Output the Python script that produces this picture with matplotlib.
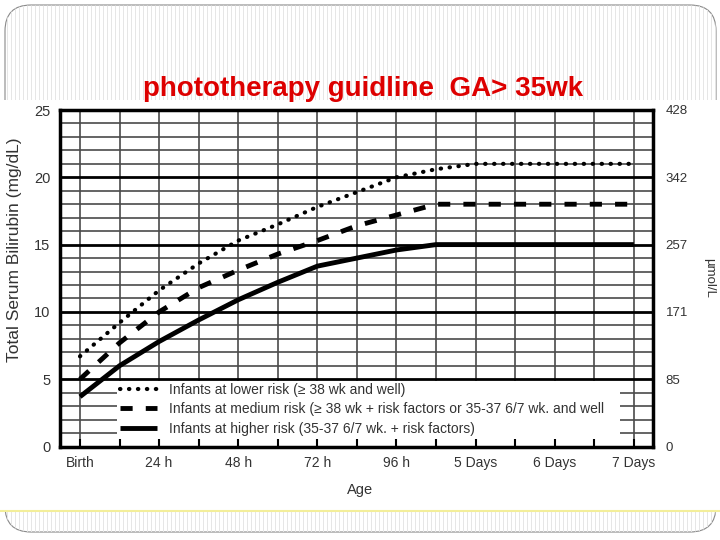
import numpy as np
import matplotlib
matplotlib.use("Agg")
import matplotlib.pyplot as plt
from matplotlib.patches import FancyBboxPatch, Rectangle

plt.rcParams['font.family'] = ['Liberation Sans', 'DejaVu Sans']

# ---------------- data ----------------
hours = [0, 12, 24, 36, 48, 60, 72, 84, 96, 108, 120, 132, 144, 156, 168]
lower_risk = [6.7, 9.2, 11.6, 13.6, 15.3, 16.5, 17.8, 18.9, 20.0, 20.6, 21.0, 21.0, 21.0, 21.0, 21.0]
medium_risk = [5.0, 7.7, 10.0, 11.8, 13.1, 14.3, 15.3, 16.4, 17.2, 18.0, 18.0, 18.0, 18.0, 18.0, 18.0]
higher_risk = [3.7, 6.0, 7.8, 9.4, 10.9, 12.2, 13.4, 14.0, 14.6, 15.0, 15.0, 15.0, 15.0, 15.0, 15.0]

labels = ["Infants at lower risk (\u2265 38 wk and well)",
          "Infants at medium risk (\u2265 38 wk + risk factors or 35-37 6/7 wk. and well",
          "Infants at higher risk (35-37 6/7 wk. + risk factors)"]

x_tick_pos = [0, 24, 48, 72, 96, 120, 144, 168]
x_tick_labels = ["Birth", "24 h", "48 h", "72 h", "96 h", "5 Days", "6 Days", "7 Days"]
y_ticks = [0, 5, 10, 15, 20, 25]
umol_labels = ["0", "85", "171", "257", "342", "428"]
minor_y = list(range(0, 26))
minor_x = list(range(0, 169, 12))

title = "phototherapy guidline  GA> 35wk"

# ---------------- figure / slide background ----------------
fig = plt.figure(figsize=(7.2, 5.4), dpi=100)
fig.patch.set_facecolor("white")

bg = fig.add_axes([0, 0, 1, 1], zorder=-5)
bg.set_xlim(0, 720)
bg.set_ylim(540, 0)
bg.axis("off")
slide = FancyBboxPatch((5, 5), 711, 527, boxstyle="round,pad=0,rounding_size=26",
                       fc="white", ec="#8a8a8a", lw=0.8, zorder=1)
bg.add_patch(slide)
stripes = bg.vlines(np.arange(7, 716, 4), 5, 532, color="#e6e6e6", lw=0.7, zorder=2)
stripes.set_clip_path(slide)
bg.add_patch(Rectangle((0, 100), 720, 410, fc="white", ec="none", zorder=3))
bg.hlines(510.5, 0, 720, color="#f3ee9a", lw=1.5, zorder=4)

# ---------------- chart ----------------
ax = fig.add_axes([60 / 720, 1 - 446.5 / 540, 593 / 720, 336.5 / 540])
ax.set_facecolor("white")
ax.set_xlim(-6.06, 173.8)
ax.set_ylim(0, 25)

# grid
ax.vlines(minor_x, 0, 25, color="#4a4a4a", lw=1.2, zorder=0.5)
ax.hlines([v for v in minor_y if v % 5], -6.06, 173.8, color="#4a4a4a", lw=1.2, zorder=0.5)
# white legend box region
ax.add_patch(Rectangle((11.2, 0), 152.5, 4.9, fc="white", ec="none", zorder=1))
ax.hlines([v for v in minor_y if v % 5 == 0], -6.06, 173.8, color="black", lw=2.0, zorder=1.5)

l1, = ax.plot(hours, lower_risk, color="black", lw=3.0, linestyle=(0, (0.1, 2.05)),
              dash_capstyle="round", zorder=3)
l2, = ax.plot(hours, medium_risk, color="black", lw=3.5, linestyle=(0, (2.5, 2.7)),
              dash_capstyle="butt", zorder=3)
l3, = ax.plot(hours, higher_risk, color="black", lw=3.5, solid_capstyle="butt", zorder=3)

for s in ax.spines.values():
    s.set_linewidth(2.5)
    s.set_color("black")
    s.set_zorder(4)

ax.set_xticks(x_tick_pos)
ax.set_xticklabels(x_tick_labels)
ax.set_xticks(minor_x, minor=True)
ax.tick_params(axis="x", which="both", direction="in", length=6, width=1.5,
               color="black", pad=7, labelsize=10, labelcolor="#333333")
ax.tick_params(axis="x", which="minor", labelbottom=False)
ax.set_yticks(y_ticks)
ax.tick_params(axis="y", length=0, pad=7, labelsize=10.5, labelcolor="#333333")

ax2 = ax.twinx()
ax2.set_ylim(0, 25)
ax2.set_yticks(y_ticks)
ax2.set_yticklabels(umol_labels)
ax2.tick_params(axis="y", length=0, pad=9, labelsize=9.5, labelcolor="#333333")
for s in ax2.spines.values():
    s.set_visible(False)

leg = ax.legend([l1, l2, l3], labels, loc="upper left", bbox_to_anchor=(0.101, 0.19),
                frameon=False, fontsize=10, handlelength=2.7, handletextpad=0.8,
                labelspacing=0.4, borderpad=0, borderaxespad=0)
for t in leg.get_texts():
    t.set_color("#333333")

fig.text(15 / 720, 1 - 250 / 540, "Total Serum Bilirubin (mg/dL)", rotation=90,
         ha="center", va="center", fontsize=12.5, color="#333333")
fig.text(709 / 720, 1 - 278 / 540, "\u00b5mol/L", rotation=270,
         ha="center", va="center", fontsize=9.5, color="#333333")
fig.text(360 / 720, 1 - 490 / 540, "Age", ha="center", va="center",
         fontsize=10.5, color="#333333")
fig.text(363 / 720, 1 - 96 / 540, title, ha="center", va="baseline",
         fontsize=20, fontweight="bold", color="#dd0000")

fig.savefig("out.png", dpi=100, facecolor=fig.get_facecolor())
